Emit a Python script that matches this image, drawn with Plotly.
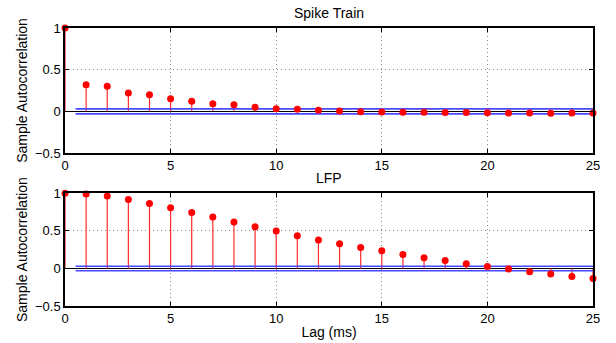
import plotly.graph_objects as go
from plotly.subplots import make_subplots

lags = list(range(26))
spike_acf = [1.0, 0.32, 0.30, 0.22, 0.20, 0.15, 0.12, 0.09, 0.08, 0.05, 0.03,
             0.024, 0.013, 0.004, -0.005, -0.008, -0.01, -0.01, -0.013, -0.013,
             -0.016, -0.02, -0.02, -0.022, -0.02, -0.02]
lfp_acf = [1.0, 0.99, 0.963, 0.918, 0.865, 0.807, 0.745, 0.683, 0.617, 0.555, 0.497,
           0.435, 0.38, 0.328, 0.28, 0.235, 0.186, 0.142, 0.106, 0.062, 0.027,
           -0.009, -0.044, -0.075, -0.106, -0.133]
bound = 0.03
titles = ["Spike Train", "LFP"]

fig = make_subplots(rows=2, cols=1, vertical_spacing=0.145)

font = "Liberation Sans, Arial, sans-serif"

for r, vals in enumerate([spike_acf, lfp_acf], start=1):
    sx, sy = [], []
    for x, v in zip(lags, vals):
        sx += [x, x, None]
        sy += [0, v, None]
    fig.add_trace(go.Scatter(x=sx, y=sy, mode="lines",
                             line=dict(color="#ff2a2a", width=1.2),
                             showlegend=False, hoverinfo="skip"), row=r, col=1)
    for b in (bound, -bound):
        fig.add_trace(go.Scatter(x=[0.5, 25], y=[b, b], mode="lines",
                                 line=dict(color="#4848ff", width=1.6),
                                 showlegend=False, hoverinfo="skip"), row=r, col=1)
    fig.add_trace(go.Scatter(x=lags, y=vals, mode="markers", cliponaxis=False,
                             marker=dict(color="#ff0000", size=7),
                             showlegend=False), row=r, col=1)

axis_common = dict(showline=True, mirror="ticks", linecolor="black", linewidth=1.5,
                   ticks="inside", ticklen=4, tickcolor="black", automargin=False,
                   showgrid=True, gridcolor="#888888", griddash="1px,3px", gridwidth=1,
                   tickfont=dict(family=font, size=13, color="black"))

for r in (1, 2):
    fig.update_xaxes(range=[0, 25], tickvals=[0, 5, 10, 15, 20, 25],
                     zeroline=False, row=r, col=1, **axis_common)
    fig.update_yaxes(range=[-0.5, 1], tickvals=[-0.5, 0, 0.5, 1],
                     ticktext=["\u22120.5", "0", "0.5", "1"],
                     zeroline=True, zerolinecolor="black", zerolinewidth=1.2,
                     title=dict(text="Sample Autocorrelation", standoff=4,
                                font=dict(family=font, size=14, color="black")),
                     row=r, col=1, **axis_common)

fig.update_xaxes(title=dict(text="Lag (ms)", standoff=2,
                            font=dict(family=font, size=14, color="black")), row=2, col=1)

fig.update_layout(
    width=616, height=343,
    margin=dict(l=65, r=23, t=28, b=37),
    plot_bgcolor="white", paper_bgcolor="white",
    font=dict(family=font, size=13, color="black"),
)
fig.update_layout(
    yaxis=dict(domain=[0.5504, 1.0]),
    yaxis2=dict(domain=[0.0, 0.4054]),
)

fig.add_annotation(text=titles[0], xref="paper", yref="paper", x=0.5, y=1.0,
                   yshift=5, yanchor="bottom", showarrow=False,
                   font=dict(family=font, size=14, color="black"))
fig.add_annotation(text=titles[1], xref="paper", yref="paper", x=0.5, y=0.4054,
                   yshift=5, yanchor="bottom", showarrow=False,
                   font=dict(family=font, size=14, color="black"))

fig.write_html("out.html", config={"displayModeBar": False},
               post_script="document.body.style.margin='0';document.body.style.padding='0';")
